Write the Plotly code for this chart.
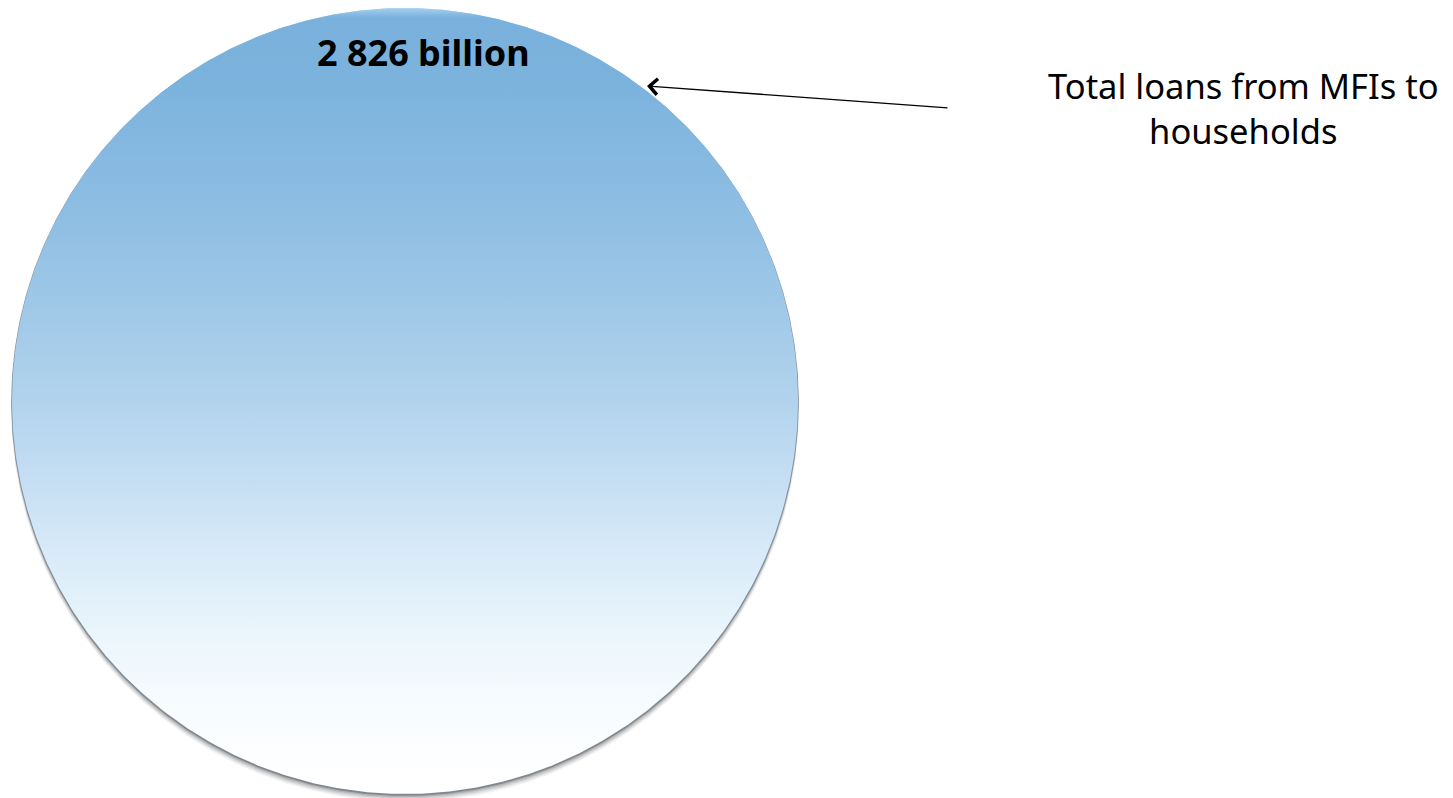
import numpy as np
import plotly.graph_objects as go

# Data
total_loans_bn = [2826]
series_label = ["Total loans from MFIs to<br>households"]

W, H = 1453, 798

# Disk geometry (pixel-like coordinates, y pointing down)
cx, cy = 405, 401
radius = 393.0  # disk area represents the total

theta = np.linspace(0, 2 * np.pi, 721)
def ring(dx=0.0, dy=0.0, r=radius):
    return cx + dx + r * np.cos(theta), cy + dy + r * np.sin(theta)

fig = go.Figure()

# soft drop shadow below the disk
for dy, r_add, a in [(7, 1.0, 0.05), (6, 0.8, 0.07), (5, 0.6, 0.09),
                     (4, 0.4, 0.12), (3, 0.2, 0.16), (2, 0.0, 0.22)]:
    sx, sy = ring(0, dy, radius + r_add)
    fig.add_trace(go.Scatter(x=sx, y=sy, mode="lines", fill="toself",
                             fillcolor=f"rgba(70,70,70,{a})",
                             line=dict(width=0), hoverinfo="skip", showlegend=False))

# rim: light bevel on top fading to gray at the bottom
rx, ry = ring(0, 0.8, radius + 0.8)
fig.add_trace(go.Scatter(
    x=rx, y=ry, mode="lines", fill="toself",
    fillgradient=dict(
        type="vertical", start=cy - radius, stop=cy + radius,
        colorscale=[[0.0, "#b4daf5"], [0.08, "#8fb8d8"], [0.3, "#8799aa"],
                    [1.0, "#7d8690"]],
    ),
    line=dict(width=0), hoverinfo="skip", showlegend=False,
))

# main disk with vertical gradient
dxs, dys = ring()
fig.add_trace(go.Scatter(
    x=dxs, y=dys, mode="lines", fill="toself",
    fillgradient=dict(
        type="vertical",
        start=cy - radius, stop=cy + radius,
        colorscale=[
            [0.00, "#a6d0f0"],
            [0.012, "#79b1dc"],
            [0.10, "#7cb3dd"],
            [0.25, "#8dbde3"],
            [0.40, "#a2cae8"],
            [0.50, "#b2d3ed"],
            [0.60, "#c5def3"],
            [0.70, "#d9ebf8"],
            [0.80, "#ebf6fc"],
            [0.88, "#f6fbfe"],
            [0.95, "#fdfeff"],
            [1.00, "#ffffff"],
        ],
    ),
    line=dict(width=0), hoverinfo="skip", showlegend=False,
))

fig.add_annotation(
    x=cx + 18, y=52, xref="x", yref="y",
    text=f"<b>{total_loans_bn[0]:,}".replace(",", " ") + " billion</b>",
    showarrow=False, font=dict(family="Noto Sans", size=36, color="#000000"),
)

# callout arrow
fig.add_annotation(
    x=647, y=86, xref="x", yref="y",
    ax=949, ay=108, axref="x", ayref="y",
    text="", showarrow=True, arrowhead=4, arrowsize=2.2, arrowwidth=1.4,
    arrowcolor="#000000",
)

fig.add_annotation(
    x=1243, y=108, xref="x", yref="y",
    text=series_label[0], showarrow=False, align="center",
    font=dict(family="Noto Sans", size=34.5, color="#000000"),
)

fig.update_xaxes(range=[0, W], visible=False, fixedrange=True)
fig.update_yaxes(range=[H, 0], visible=False, fixedrange=True)
fig.update_layout(
    width=W, height=H, margin=dict(l=0, r=0, t=0, b=0),
    paper_bgcolor="white", plot_bgcolor="white", showlegend=False,
)

fig.write_html("out.html")
